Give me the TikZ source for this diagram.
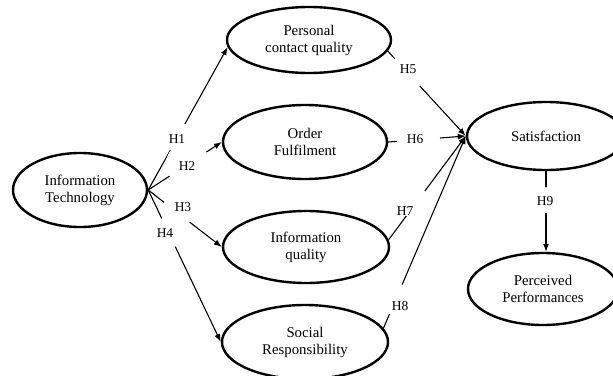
\documentclass[tikz,border=0pt]{standalone}
\usepackage{fontspec}
\setmainfont{Liberation Serif}
\usetikzlibrary{shapes.geometric,arrows.meta}
\begin{document}
\begin{tikzpicture}[x=1pt,y=-1pt,
  ell/.style={ellipse,draw,line width=2.4pt,inner sep=0pt,align=center,
    font=\fontsize{14.8}{17}\selectfont},
  conn/.style={line width=1.1pt,-{Latex[length=8pt,width=6pt]}},
  gap/.style={circle,fill=white,inner sep=0pt,minimum size=#1},
  lab/.style={inner sep=0pt,font=\fontsize{13.5}{15}\selectfont}]
\clip (0,0) rectangle (613,375);
\fill[white] (0,0) rectangle (613,375);
\node[ell,minimum width=134pt,minimum height=74pt] (it) at (80,190) {Information\\Technology};
\node[ell,minimum width=164pt,minimum height=66pt] (pcq) at (309,40) {Personal\\contact quality};
\node[ell,minimum width=164pt,minimum height=74pt] (of) at (305,142) {Order\\Fulfilment};
\node[ell,minimum width=166pt,minimum height=72pt] (iq) at (306,247) {Information\\quality};
\node[ell,minimum width=166pt,minimum height=74pt] (sr) at (305,342) {Social\\Responsibility};
\node[ell,minimum width=158pt,minimum height=68pt] (sat) at (546,136) {Satisfaction};
\node[ell,minimum width=150pt,minimum height=72pt] (pp) at (543,289) {Perceived\\Performances};
% connectors with white gaps
\draw[conn] (it.east) -- node[gap=30pt,pos=0.37]{} (pcq.185);
\draw[conn] (it.east) -- node[gap=44pt,pos=0.54]{} (of.west);
\draw[conn] (it.east) -- node[gap=32pt,pos=0.39]{} (iq.west);
\draw[conn] (it.east) -- node[gap=31pt,pos=0.28]{} (sr.west);
\draw[conn] (pcq.-8) -- node[gap=37pt,pos=0.25]{} (sat.west);
\draw[conn] (of.east) -- node[gap=43pt,pos=0.39]{} (sat.west);
\draw[conn] (iq.5) -- node[gap=31pt,pos=0.35]{} (sat.west);
\draw[conn] (sr.10) -- node[gap=32pt,pos=0.15]{} (sat.west);
\draw[conn] (sat.south) -- node[gap=26pt,pos=0.36]{} (sat.south |- pp.north);
% labels
\node[lab] (h1) at (177,139) {H1};
\node[lab] (h2) at (187,166) {H2};
\node[lab] (h3) at (183,207) {H3};
\node[lab] (h4) at (165,233) {H4};
\node[lab] (h5) at (408,69) {H5};
\node[lab] (h6) at (415,139) {H6};
\node[lab] (h7) at (405,211) {H7};
\node[lab] (h8) at (400,306) {H8};
\node[lab] (h9) at (545,201) {H9};
\end{tikzpicture}
\end{document}
